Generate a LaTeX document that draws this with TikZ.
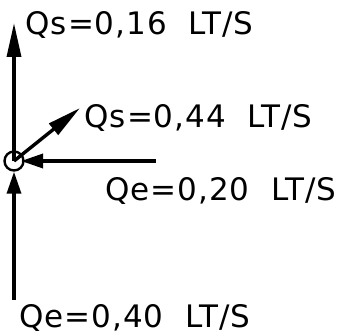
\documentclass[tikz,border=0pt]{standalone}
\usepackage{fontspec}
\setmainfont{DejaVu Sans}
\usetikzlibrary{arrows.meta}
\tikzset{
    caudal/.style={font=\fontsize{31}{31}\selectfont\addfontfeature{LetterSpace=3},
                   inner sep=0pt, anchor=base west},
    flow/.style={-{Triangle[length=#1, width=14pt]}, line width=3.4pt},
    flow/.default=34pt,
    nudo/.style={circle, draw, line width=2.4pt, minimum size=19pt, inner sep=0pt},
}
\begin{document}
\begin{tikzpicture}[x=1pt, y=-1pt]
    \useasboundingbox (0,0) rectangle (344,334);

    \node[nudo] (nudo) at (14,161) {};
    \coordinate (arriba) at (14,23);
    \coordinate (abajo) at (14,300);
    \coordinate (derecha) at (156,161);
    \coordinate (diagonal) at (80,108);
    \coordinate (entradalat) at (21,161);

    \draw[flow] (nudo.center) -- (arriba);
    \draw[flow=22pt] (abajo) -- (nudo.south);
    \draw[flow=22pt] (derecha) -- (entradalat);
    \draw[flow] (nudo.center) -- (diagonal);

    \node[caudal] (qs1) at (25.5,35) {Qs=0,16\ \ LT/S};
    \node[caudal] (qs2) at (84.5,127) {Qs=0,44\ \ LT/S};
    \node[caudal] (qe1) at (105.5,200) {Qe=0,20\ \ LT/S};
    \node[caudal] (qe2) at (19.5,327) {Qe=0,40\ \ LT/S};
\end{tikzpicture}
\end{document}
